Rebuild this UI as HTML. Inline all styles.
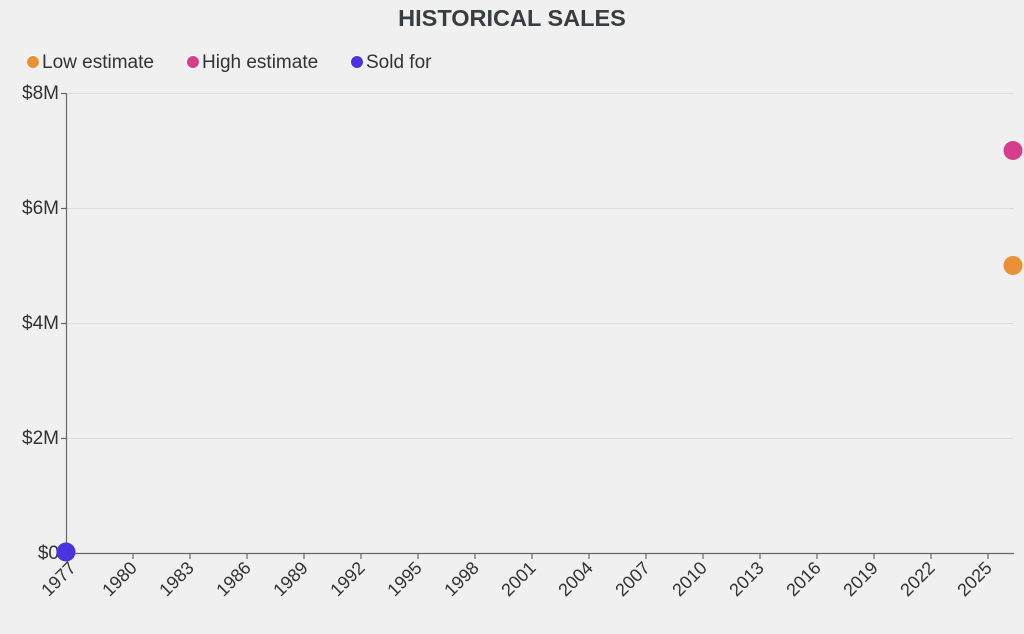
<!DOCTYPE html>
<html><head><style>
body{margin:0;background:#f0f0f0;}
svg{display:block;font-family:"Liberation Sans",sans-serif;}
</style></head><body>
<svg width="1024" height="634" xmlns="http://www.w3.org/2000/svg">
<rect width="1024" height="634" fill="#f0f0f0"/>
<text x="512" y="26" text-anchor="middle" font-size="23.5" font-weight="bold" fill="#383d40">HISTORICAL SALES</text>
<g font-size="19" fill="#333">
<circle cx="33" cy="62" r="6.5" fill="#eb9034" stroke="#fff" stroke-width="1"/><text x="42" y="68">Low estimate</text>
<circle cx="193" cy="62" r="6.5" fill="#d63d8a" stroke="#fff" stroke-width="1"/><text x="202" y="68">High estimate</text>
<circle cx="357" cy="62" r="6.5" fill="#4a33e0" stroke="#fff" stroke-width="1"/><text x="366" y="68">Sold for</text>
</g>
<g stroke="#dedede" stroke-width="1">
<line x1="66" x2="1014" y1="93.5" y2="93.5"/>
<line x1="66" x2="1014" y1="208.5" y2="208.5"/>
<line x1="66" x2="1014" y1="323.5" y2="323.5"/>
<line x1="66" x2="1014" y1="438.5" y2="438.5"/>
</g>
<g stroke="#666" stroke-width="1.2">
<line x1="66.5" y1="93" x2="66.5" y2="553"/>
<line x1="66" y1="553.5" x2="1014" y2="553.5"/>
<line x1="61" x2="66" y1="93.5" y2="93.5"/>
<line x1="61" x2="66" y1="208.5" y2="208.5"/>
<line x1="61" x2="66" y1="323.5" y2="323.5"/>
<line x1="61" x2="66" y1="438.5" y2="438.5"/>
<line x1="61" x2="66" y1="553.5" y2="553.5"/>
<line x1="66.5" x2="66.5" y1="553" y2="559"/>
<line x1="133" x2="133" y1="553" y2="559"/>
<line x1="190" x2="190" y1="553" y2="559"/>
<line x1="247" x2="247" y1="553" y2="559"/>
<line x1="304" x2="304" y1="553" y2="559"/>
<line x1="361" x2="361" y1="553" y2="559"/>
<line x1="418" x2="418" y1="553" y2="559"/>
<line x1="475" x2="475" y1="553" y2="559"/>
<line x1="532" x2="532" y1="553" y2="559"/>
<line x1="589" x2="589" y1="553" y2="559"/>
<line x1="646" x2="646" y1="553" y2="559"/>
<line x1="703" x2="703" y1="553" y2="559"/>
<line x1="760" x2="760" y1="553" y2="559"/>
<line x1="817" x2="817" y1="553" y2="559"/>
<line x1="874" x2="874" y1="553" y2="559"/>
<line x1="931" x2="931" y1="553" y2="559"/>
<line x1="988" x2="988" y1="553" y2="559"/>
</g>
<g font-size="19" fill="#333" text-anchor="end">
<text x="59" y="99">$8M</text>
<text x="59" y="214">$6M</text>
<text x="59" y="329">$4M</text>
<text x="59" y="444">$2M</text>
<text x="59" y="559">$0</text>
</g>
<g font-size="18" fill="#333" text-anchor="end">
<text transform="translate(77,569) rotate(-45)">1977</text>
<text transform="translate(138,569) rotate(-45)">1980</text>
<text transform="translate(195,569) rotate(-45)">1983</text>
<text transform="translate(252,569) rotate(-45)">1986</text>
<text transform="translate(309,569) rotate(-45)">1989</text>
<text transform="translate(366,569) rotate(-45)">1992</text>
<text transform="translate(423,569) rotate(-45)">1995</text>
<text transform="translate(480,569) rotate(-45)">1998</text>
<text transform="translate(537,569) rotate(-45)">2001</text>
<text transform="translate(594,569) rotate(-45)">2004</text>
<text transform="translate(651,569) rotate(-45)">2007</text>
<text transform="translate(708,569) rotate(-45)">2010</text>
<text transform="translate(765,569) rotate(-45)">2013</text>
<text transform="translate(822,569) rotate(-45)">2016</text>
<text transform="translate(879,569) rotate(-45)">2019</text>
<text transform="translate(936,569) rotate(-45)">2022</text>
<text transform="translate(993,569) rotate(-45)">2025</text>
</g>
<circle cx="1013" cy="150.5" r="9.5" fill="#d63d8a"/>
<circle cx="1013" cy="265.5" r="9.5" fill="#eb9034"/>
<circle cx="66" cy="552" r="9.5" fill="#4a33e0"/>
</svg>
</body></html>
